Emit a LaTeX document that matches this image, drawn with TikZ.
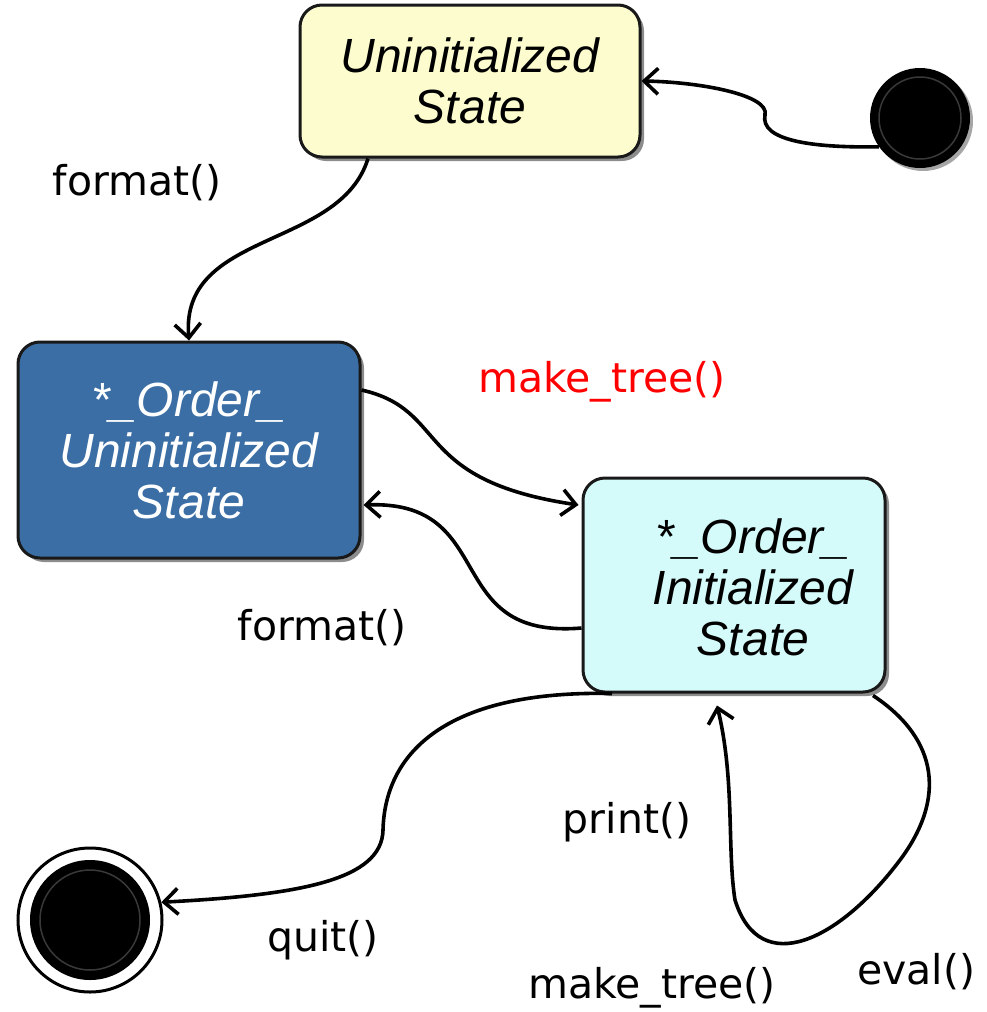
\documentclass[tikz,border=0pt]{standalone}
\usepackage{fontspec}
\newfontfamily\boxfont{Liberation Sans}
\newfontfamily\lblfont{DejaVu Sans}
\usetikzlibrary{arrows.meta,calc,shadows,positioning}
\definecolor{uninitfill}{RGB}{252,252,206}
\definecolor{orderunfill}{RGB}{58,110,165}
\definecolor{orderinfill}{RGB}{212,250,250}
\definecolor{borderline}{RGB}{25,25,25}
\begin{document}
\begin{tikzpicture}[x=1pt,y=-1pt,
  state/.style={rectangle, rounded corners=22pt, draw=borderline, line width=3pt,
    align=center, inner sep=0pt,
    font=\boxfont\itshape\fontsize{48}{51}\selectfont,
    drop shadow={shadow xshift=4pt,shadow yshift=-4pt,fill=black,opacity=0.45}},
  statetext/.style={align=center, inner sep=0pt,
    font=\boxfont\itshape\fontsize{48}{51}\selectfont},
  trans/.style={line width=3.6pt, -{Straight Barb[length=14pt,width=26pt]}},
  lbl/.style={font=\lblfont\fontsize{41}{46}\selectfont, inner sep=0pt}]
\useasboundingbox (0,0) rectangle (986,1012);

% states
\node[state, fill=uninitfill, minimum width=340pt, minimum height=152pt]
  (uninit) at (470,81) {Uninitialized\\State};
\node[state, fill=orderunfill, text=white, minimum width=342pt, minimum height=216pt]
  (orderun) at (189,450) {*\_Order\_\\Uninitialized\\State};
\node[state, fill=orderinfill, minimum width=302pt, minimum height=214pt]
  (orderin) at (734,585) {};
\node[statetext] (orderintext) at (753,587) {*\_Order\_\\Initialized\\State};

% initial pseudo-state
\node[circle, fill=black, minimum size=100pt, inner sep=0pt,
  drop shadow={shadow xshift=3pt,shadow yshift=-3pt,fill=black,opacity=0.35}]
  (init) at (920,118) {};
\draw[gray!45!black, line width=1.5pt] (init.center) circle (41pt);

% final pseudo-state
\node[circle, draw=black, line width=3pt, fill=white, minimum size=144pt, inner sep=0pt]
  (fin) at (90,920) {};
\node[circle, fill=black, minimum size=120pt, inner sep=0pt] (fincore) at (fin.center) {};
\draw[gray!45!black, line width=1.5pt] (fincore.center) circle (50pt);

% transitions
\draw[trans] (init.215) .. controls (810,148) and (760,140) .. (765,115)
  .. controls (770,95) and (700,82) .. (uninit.east);
\draw[trans] ($(uninit.south)+(-102,0)$) .. controls (340,250) and (180,230) .. (orderun.north);
\draw[trans] ($(orderun.east)+(0,-60)$) .. controls (450,410) and (410,480) .. ($(orderin.west)+(-3,-80)$);
\draw[trans] ($(orderin.west)+(0,43)$) .. controls (440,640) and (500,500) .. ($(orderun.east)+(2,55)$);
\draw[trans] ($(orderin.south)+(-122,0)$) .. controls (450,690) and (385,750) .. (383,830)
  .. controls (382,880) and (300,895) .. (fin.14);
\draw[trans] ($(orderin.south)+(139,2)$) .. controls (940,740) and (945,800) .. (900,860)
  .. controls (840,940) and (760,980) .. (735,900)
  .. controls (727,850) and (735,780) .. ($(orderin.south)+(-17,12)$);

% labels
\node[lbl] (lformat1) at (137,183) {format()};
\node[lbl, text={rgb,255:red,255;green,0;blue,0}] (lmake1) at (602,382) {make\_tree()};
\node[lbl] (lformat2) at (322,628) {format()};
\node[lbl] (lquit) at (323,940) {quit()};
\node[lbl] (lprint) at (627,822) {print()};
\node[lbl] (lmake2) at (652,988) {make\_tree()};
\node[lbl] (leval) at (916,972) {eval()};
\end{tikzpicture}
\end{document}
